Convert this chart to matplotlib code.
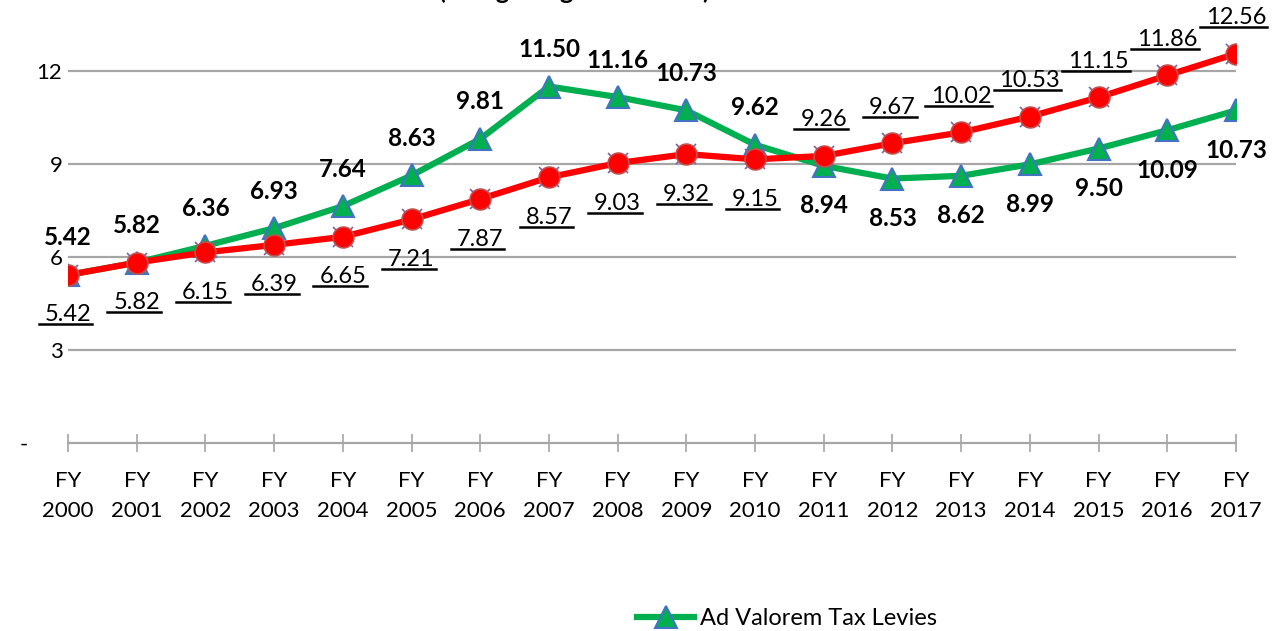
import matplotlib.pyplot as plt
from matplotlib.lines import Line2D

plt.rcParams['font.family'] = ['Lato', 'DejaVu Sans']

years = ["FY\n2000", "FY\n2001", "FY\n2002", "FY\n2003", "FY\n2004", "FY\n2005",
         "FY\n2006", "FY\n2007", "FY\n2008", "FY\n2009", "FY\n2010", "FY\n2011",
         "FY\n2012", "FY\n2013", "FY\n2014", "FY\n2015", "FY\n2016", "FY\n2017"]
levies = [5.42, 5.82, 6.36, 6.93, 7.64, 8.63, 9.81, 11.50, 11.16, 10.73,
          9.62, 8.94, 8.53, 8.62, 8.99, 9.50, 10.09, 10.73]
growth = [5.42, 5.82, 6.15, 6.39, 6.65, 7.21, 7.87, 8.57, 9.03, 9.32,
          9.15, 9.26, 9.67, 10.02, 10.53, 11.15, 11.86, 12.56]
y_ticks = [0, 3, 6, 9, 12]
y_tick_labels = ["-      ", "3", "6", "9", "12"]

x = list(range(len(years)))

fig = plt.figure(figsize=(12.86, 6.31), dpi=100)
ax = fig.add_axes([68 / 1286, 188 / 631, 1168 / 1286, 443 / 631])

for v in y_ticks[1:]:
    ax.axhline(v, color="#A6A6A6", lw=1.6, zorder=1)

# red series with purple x behind the circles
ax.plot(x, growth, color="#FF0000", lw=4.5, zorder=3)
ax.plot(x, growth, ls="none", marker="x", ms=14, mew=1.2, color="#7F60A8", zorder=3)
ax.plot(x, growth, ls="none", marker="o", ms=15, mfc="#FF0000", mec="#C0504D",
        mew=1.2, zorder=4)

ax.plot(x, levies, color="#00B050", lw=4.5, marker="^", ms=16, mfc="#00B050",
        mec="#4472C4", mew=1.5, zorder=2, label="Ad Valorem Tax Levies")

ax.set_xlim(0, len(years) - 1)
ax.set_ylim(0, 443 / 31)
ax.set_xticks(x)
ax.set_xticklabels(years, fontsize=16, linespacing=1.6)
ax.set_yticks(y_ticks)
ax.set_yticklabels(y_tick_labels, fontsize=16)
ax.tick_params(axis="x", direction="inout", length=13, width=1.2, color="#A6A6A6", pad=14)
ax.tick_params(axis="y", length=0, pad=4)
for s in ["top", "right", "left"]:
    ax.spines[s].set_visible(False)
ax.spines["bottom"].set_color("#A6A6A6")
ax.spines["bottom"].set_linewidth(1.6)
ax.spines["bottom"].set_clip_on(False)

# green labels: above until FY2010, below afterwards
for i, v in enumerate(levies):
    dy = 37 if i <= 10 else -40
    ax.annotate(f"{v:.2f}", (i, v), xytext=(0, dy), textcoords="offset pixels",
                ha="center", va="center", fontsize=17.5, fontweight="bold",
                annotation_clip=False, zorder=5)

# red labels: below until FY2010, above afterwards, underlined
red_texts = []
for i, v in enumerate(growth):
    dy = -40 if i <= 10 else 36
    t = ax.annotate(f"{v:.2f}", (i, v), xytext=(0, dy), textcoords="offset pixels",
                    ha="center", va="center", fontsize=17,
                    annotation_clip=False, zorder=5)
    red_texts.append(t)

fig.text(0.447, 1 + 1 / 631, "(Using Budget Amounts)", ha="center", va="baseline",
         fontsize=18, fontweight="bold")

fig.legend(loc="center", bbox_to_anchor=(0.612, 0.02), frameon=False, fontsize=17,
           handlelength=2.4, handletextpad=0.25)

fig.canvas.draw()
renderer = fig.canvas.get_renderer()
for t in red_texts:
    bb = t.get_window_extent(renderer)
    fig.add_artist(Line2D([bb.x0 - 6, bb.x1 + 1], [bb.y0 + 1, bb.y0 + 1],
                          transform=None, color="black", lw=1.8))

fig.savefig("out.png", dpi=100)
plt.close(fig)
